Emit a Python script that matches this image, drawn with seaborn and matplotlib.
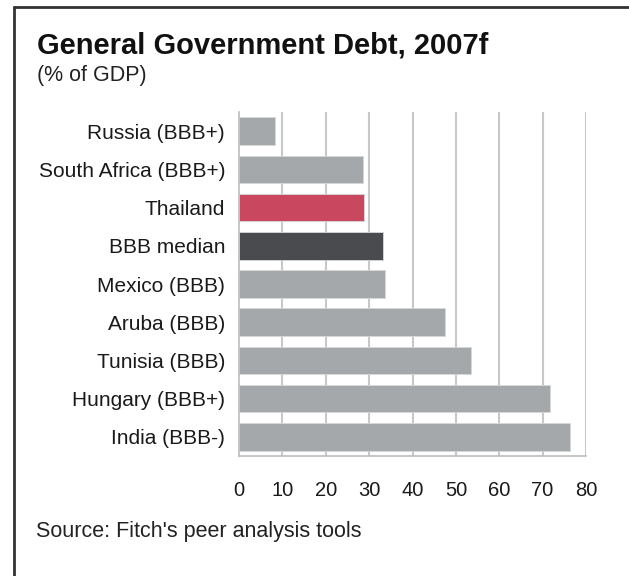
import matplotlib
matplotlib.use("Agg")
import matplotlib.pyplot as plt
import seaborn as sns
import pandas as pd
from matplotlib.lines import Line2D

countries = ["Russia (BBB+)", "South Africa (BBB+)", "Thailand", "BBB median",
             "Mexico (BBB)", "Aruba (BBB)", "Tunisia (BBB)", "Hungary (BBB+)", "India (BBB-)"]
debt = [8.3, 28.7, 28.8, 33.3, 33.7, 47.5, 53.5, 71.6, 76.2]
xticks = [0, 10, 20, 30, 40, 50, 60, 70, 80]

GRAY = "#A5A8AB"
RED = "#C9485F"
DARK = "#4A4B4E"
colors = {c: GRAY for c in countries}
colors["Thailand"] = RED
colors["BBB median"] = DARK

df = pd.DataFrame({"country": countries, "debt": debt})

sns.set_theme(style="white")
plt.rcParams["font.family"] = ["Liberation Sans", "DejaVu Sans"]

fig = plt.figure(figsize=(6.29, 5.76), dpi=100)
fig.patch.set_facecolor("white")
ax = fig.add_axes([239/629, 1-456/576, (586-239)/629, (456-112)/576])

sns.barplot(data=df, x="debt", y="country", hue="country", palette=colors,
            order=countries, hue_order=countries, dodge=False, legend=False,
            width=0.72, linewidth=0.6, edgecolor="#d8d8d8", saturation=1,
            ax=ax, orient="h")

ax.set_xlim(0, 80)
ax.set_ylim(len(countries) - 0.5, -0.5)
ax.set_xticks(xticks)
ax.set_xticklabels([str(t) for t in xticks])
ax.set_xlabel("")
ax.set_ylabel("")

for t in xticks[1:]:
    ax.axvline(t, color="#C8C8C8", lw=1.5, zorder=0)

ax.set_axisbelow(True)
for s in ["top", "right"]:
    ax.spines[s].set_visible(False)
for s in ["left", "bottom"]:
    ax.spines[s].set_color("#BDBDBD")
    ax.spines[s].set_linewidth(1.2)

ax.tick_params(axis="x", which="major", length=6, width=1.2, color="#BDBDBD",
               labelsize=14.5, labelcolor="#1a1a1a", pad=12)
ax.tick_params(axis="y", which="major", length=0, labelsize=15,
               labelcolor="#1a1a1a", pad=10)
ax.set_yticks([i + 0.5 for i in range(-1, len(countries))], minor=True)
ax.tick_params(axis="y", which="minor", length=6, width=1.2, color="#BDBDBD")

fig.text(37/629, 1-45/576, "General Government Debt, 2007f", fontsize=21,
         fontweight="bold", color="#111111", va="center", ha="left")
fig.text(37/629, 1-75/576, "(% of GDP)", fontsize=15.5, color="#222222",
         va="center", ha="left")
fig.text(36/629, 1-532/576, "Source: Fitch's peer analysis tools", fontsize=15.5,
         color="#222222", va="center", ha="left")

fig.add_artist(Line2D([14/629, 1.0], [1-7/576, 1-7/576], transform=fig.transFigure,
                      color="#333333", lw=2))
fig.add_artist(Line2D([14/629, 14/629], [1-7/576, 0.0], transform=fig.transFigure,
                      color="#333333", lw=2))

fig.savefig("out.png", dpi=100)
